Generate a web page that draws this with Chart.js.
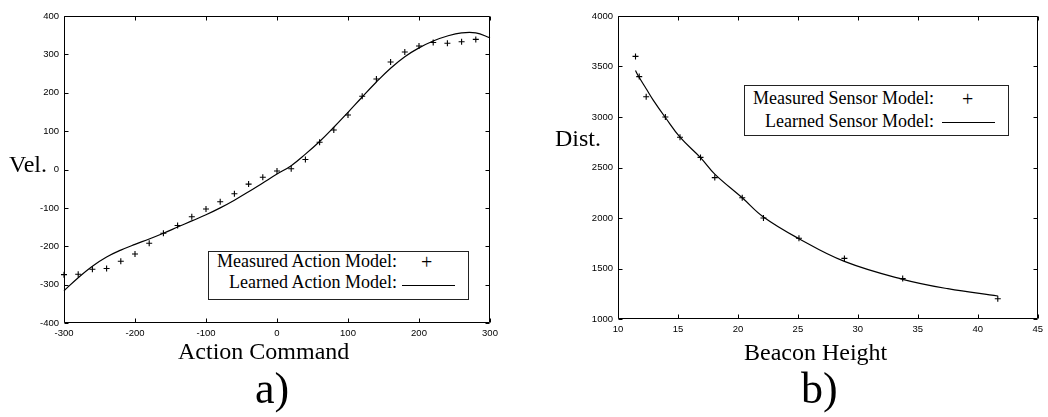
<!DOCTYPE html>
<html>
<head>
<meta charset="utf-8">
<script src="https://cdn.jsdelivr.net/npm/chart.js@4.4.1/dist/chart.umd.min.js"></script>
<style>
  html,body{margin:0;padding:0;background:#fff;}
  body{width:1048px;height:417px;position:relative;overflow:hidden;font-family:"Liberation Serif","Times New Roman",serif;color:#000;}
  canvas{position:absolute;top:0;}
  .t{position:absolute;white-space:nowrap;line-height:1;}
  .box{position:absolute;border:1px solid #222;background:#fff;}
  .ln{position:absolute;height:0;border-top:1px solid #000;}
</style>
</head>
<body>
<canvas id="cA" width="520" height="417" style="left:0"></canvas>
<canvas id="cB" width="528" height="417" style="left:520px"></canvas>

<div class="t" style="left:9px;top:152px;font-size:24px;">Vel.</div>
<div class="t" style="left:178px;top:339px;font-size:24px;">Action Command</div>
<div class="t" style="left:255px;top:367px;font-size:44px;">a)</div>

<div class="t" style="left:555px;top:126px;font-size:24px;">Dist.</div>
<div class="t" style="left:744px;top:340px;font-size:24px;">Beacon Height</div>
<div class="t" style="left:801px;top:367px;font-size:44px;">b)</div>

<div class="box" style="left:208px;top:251px;width:259px;height:47px;"></div>
<div class="t" style="right:651px;top:252px;font-size:18px;">Measured Action Model:</div>
<div class="t" style="right:651px;top:273px;font-size:18px;">Learned Action Model:</div>
<div class="t" style="left:421px;top:252px;font-size:20px;">+</div>
<div class="ln" style="left:402px;top:285px;width:53px;"></div>

<div class="box" style="left:744px;top:85px;width:263px;height:49px;"></div>
<div class="t" style="right:114px;top:89px;font-size:18px;">Measured Sensor Model:</div>
<div class="t" style="right:114px;top:112px;font-size:18px;">Learned Sensor Model:</div>
<div class="t" style="left:962px;top:89px;font-size:20px;">+</div>
<div class="ln" style="left:942px;top:122px;width:53px;"></div>

<script>
// ---- Plot a) data ----
const actionCommands = [-300,-280,-260,-240,-220,-200,-180,-160,-140,-120,-100,-80,-60,-40,-20,0,20,40,60,80,100,120,140,160,180,200,220,240,260,280];
const measuredVel    = [-274,-273,-260,-258,-239,-220,-192,-166,-146,-123,-103,-84,-63,-38,-20,-4,2,26,71,103,142,191,236,280,306,322,331,329,333,339];
const learnedActionX = [-300,-280,-260,-240,-220,-200,-180,-160,-140,-120,-100,-80,-60,-40,-20,0,20,40,60,80,100,120,140,160,180,200,220,240,260,280,300];
const learnedVel     = [-316,-282,-252,-228,-210,-195,-181,-166,-150,-134,-118,-100,-80,-58,-35,-12,10,40,73,110,149,189,228,264,294,317,335,348,356,356,343];
const actionXTicks = {min:-300, max:300, step:100};
const actionYTicks = {min:-400, max:400, step:100};

// ---- Plot b) data ----
const beaconHeights  = [11.46,11.77,12.35,13.95,15.17,16.88,18.07,20.36,22.13,25.09,28.88,33.74,41.67];
const measuredDist   = [3600,3400,3200,3000,2800,2600,2400,2200,2000,1800,1600,1400,1200];
const learnedHeightX = [11.46,11.71,12.35,12.95,13.95,15.17,16.88,18.07,20.36,22.13,25.09,28.88,33.74,37.5,41.67];
const learnedDist    = [3460,3403,3280,3165,2995,2800,2598,2435,2200,2010,1795,1570,1393,1300,1228];
const beaconXTicks = {min:10, max:45, step:5};
const distYTicks = {min:1000, max:4000, step:500};

const pts = (xs, ys) => xs.map((x,i)=>({x:x, y:ys[i]}));

const framePlugin = {
  id:'frame',
  afterDraw(chart){
    const ctx = chart.ctx, a = chart.chartArea;
    const L = 4;
    ctx.save();
    ctx.strokeStyle = '#000';
    ctx.lineWidth = 1;
    const l = Math.round(a.left)+0.5, r = Math.round(a.right)-0.5, t = Math.round(a.top)+0.5, b = Math.round(a.bottom)-0.5;
    ctx.beginPath();
    ctx.rect(l, t, r-l, b-t);
    const xs = chart.scales.x, ys = chart.scales.y;
    xs.ticks.forEach(tk=>{
      const px = Math.round(xs.getPixelForValue(tk.value))+0.5;
      ctx.moveTo(px,b); ctx.lineTo(px,b-L);
      ctx.moveTo(px,t); ctx.lineTo(px,t+L);
    });
    ys.ticks.forEach(tk=>{
      const py = Math.round(ys.getPixelForValue(tk.value))+0.5;
      ctx.moveTo(l,py); ctx.lineTo(l+L,py);
      ctx.moveTo(r,py); ctx.lineTo(r-L,py);
    });
    ctx.stroke();
    ctx.restore();
  }
};

const tickFont = {family:"'Liberation Sans', Arial, sans-serif", size:9.5};
const plain = (v) => String(v);

function makeChart(id, measured, learned, xT, yT, yAxisWidth, pad){
  return new Chart(document.getElementById(id), {
    type:'scatter',
    data:{datasets:[
      {data:measured, showLine:false, pointStyle:'cross', pointRadius:3, pointHoverRadius:3,
       borderColor:'#000', backgroundColor:'#000', pointBorderWidth:1.1, clip:false},
      {data:learned, showLine:true, pointRadius:0, borderColor:'#000', borderWidth:1.2,
       tension:0.4, fill:false, clip:false}
    ]},
    options:{
      responsive:false, animation:false, devicePixelRatio:1,
      layout:{padding:pad},
      plugins:{legend:{display:false}, tooltip:{enabled:false}},
      scales:{
        x:{type:'linear', min:xT.min, max:xT.max,
           ticks:{stepSize:xT.step, color:'#000', font:tickFont, padding:5, maxRotation:0, autoSkip:false, callback:plain},
           grid:{display:false, drawTicks:false}, border:{display:false},
           afterFit:(s)=>{s.height=20;}},
        y:{type:'linear', min:yT.min, max:yT.max,
           ticks:{stepSize:yT.step, color:'#000', font:tickFont, padding:5, autoSkip:false, callback:plain},
           grid:{display:false, drawTicks:false}, border:{display:false},
           afterFit:(s)=>{s.width=yAxisWidth;}}
      }
    },
    plugins:[framePlugin]
  });
}

makeChart('cA', pts(actionCommands, measuredVel), pts(learnedActionX, learnedVel),
  actionXTicks, actionYTicks, 64, {left:0, top:16, right:30, bottom:74});
makeChart('cB', pts(beaconHeights, measuredDist), pts(learnedHeightX, learnedDist),
  beaconXTicks, distYTicks, 98, {left:0, top:16, right:8, bottom:78});
</script>
</body>
</html>
